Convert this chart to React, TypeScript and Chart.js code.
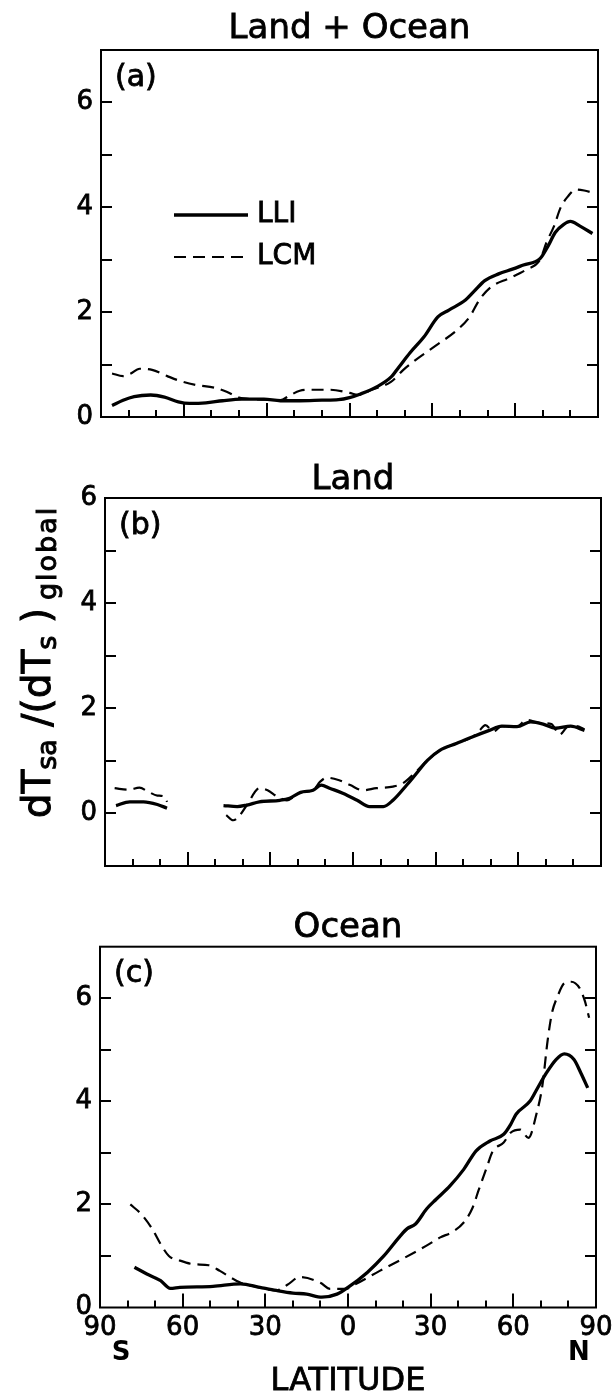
import React, { useEffect, useRef } from "react";
import { Chart, registerables } from "chart.js";

Chart.register(...registerables);

const FONT = "'DejaVu Sans', 'Liberation Sans', Arial, sans-serif";

// ---------------- data ----------------
const seriesNames = ["LLI", "LCM"];
const panelTitles = ["Land + Ocean", "Land", "Ocean"];
const panelTags = ["(a)", "(b)", "(c)"];
const xLabelLats = [-90, -60, -30, 0, 30, 60, 90];
const yLabelValues = [0, 2, 4, 6];
const hemisphereLabels = ["S", "N"];
const xTitle = "LATITUDE";
const yTitleRuns = [
  { text: "dT", sub: false },
  { text: "sa", sub: true },
  { text: " /(dT", sub: false },
  { text: "s", sub: true },
  { text: " )", sub: false },
  { text: "global", sub: true },
];

// (a) Land + Ocean
const latA_LLI = [-86, -82, -78, -72, -67, -62, -58, -52, -46, -39, -31, -25, -18, -10, -4, 0, 4, 10, 15, 18, 22, 27, 32, 36, 42, 45, 49, 54, 59, 63, 69, 72, 74.5, 77.5, 80, 83.5, 88];
const valA_LLI = [0.22, 0.32, 0.39, 0.42, 0.38, 0.29, 0.26, 0.27, 0.31, 0.34, 0.34, 0.31, 0.31, 0.32, 0.33, 0.37, 0.44, 0.58, 0.76, 0.96, 1.23, 1.53, 1.91, 2.04, 2.23, 2.39, 2.6, 2.73, 2.82, 2.9, 3.02, 3.27, 3.52, 3.67, 3.73, 3.64, 3.5];
const latA_LCM = [-86, -82, -79.5, -76, -71.5, -66, -61.5, -55.5, -49, -44.5, -40, -35, -30, -25, -22, -18, -14, -7, 0, 3, 8, 15, 19.5, 24, 31.5, 39, 43.5, 47, 51, 58, 64, 69, 71.5, 74, 76.5, 79, 82, 85, 88];
const valA_LCM = [0.83, 0.78, 0.82, 0.92, 0.9, 0.78, 0.69, 0.61, 0.56, 0.48, 0.37, 0.34, 0.33, 0.32, 0.4, 0.5, 0.52, 0.52, 0.46, 0.42, 0.52, 0.67, 0.9, 1.09, 1.37, 1.66, 1.91, 2.23, 2.47, 2.65, 2.81, 3.0, 3.35, 3.63, 4.0, 4.2, 4.34, 4.32, 4.28];

// (b) Land (null = no land, gap)
const latB_LLI = [-86, -81, -76, -71, -67.5, -57, -47, -42, -38.5, -34, -26.5, -23, -19, -14.5, -11.5, -8.5, -3.5, 1.5, 6, 11, 14.5, 19.5, 23, 27, 31.5, 37.5, 43.5, 49.5, 54, 59.5, 64.5, 69, 73.5, 79, 84];
const valB_LLI = [0.15, 0.22, 0.22, 0.17, 0.1, null, 0.15, 0.13, 0.16, 0.22, 0.25, 0.29, 0.4, 0.44, 0.54, 0.48, 0.38, 0.25, 0.13, 0.13, 0.25, 0.54, 0.76, 1.01, 1.2, 1.33, 1.46, 1.58, 1.66, 1.65, 1.74, 1.7, 1.62, 1.66, 1.58];
const latB_LCM = [-86.5, -81.5, -77.5, -74.5, -71, -68, -67.5, -57, -46, -43.5, -41.5, -38.5, -34, -31, -27.5, -24, -19, -14.5, -12, -9.5, -5, -1, 3.5, 8.5, 14.5, 18, 23, 27, 31.5, 37.5, 43.5, 46, 48, 51, 54, 59.5, 63, 68, 72, 75, 78, 81, 84];
const valB_LCM = [0.48, 0.45, 0.49, 0.42, 0.34, 0.31, 0.22, null, -0.03, -0.13, -0.06, 0.16, 0.48, 0.44, 0.32, 0.25, 0.4, 0.44, 0.6, 0.68, 0.63, 0.54, 0.44, 0.48, 0.51, 0.57, 0.8, 1.01, 1.2, 1.33, 1.46, 1.58, 1.68, 1.56, 1.66, 1.65, 1.78, 1.72, 1.7, 1.5, 1.65, 1.66, 1.6];

// (c) Ocean
const latC_LLI = [-77.5, -73, -68, -64.5, -61, -49, -39, -32, -26, -20, -15, -9.5, -4, 0, 7, 13, 19, 21.5, 24.5, 28.5, 32, 37, 42, 46.5, 51.5, 56.5, 59, 61, 66, 68.5, 72, 75.5, 78.5, 82, 84.5, 87];
const valC_LLI = [0.78, 0.65, 0.52, 0.37, 0.39, 0.41, 0.46, 0.39, 0.33, 0.28, 0.26, 0.2, 0.26, 0.39, 0.68, 1.0, 1.39, 1.53, 1.62, 1.91, 2.1, 2.36, 2.68, 3.04, 3.23, 3.36, 3.55, 3.75, 4.0, 4.23, 4.55, 4.81, 4.92, 4.81, 4.55, 4.26];
const latC_LCM = [-79, -75, -71, -68, -65, -61, -56, -50.5, -46.5, -41.5, -38, -33, -26, -22, -17.5, -10, -6.5, -1, 3, 11.5, 20, 28.5, 33.5, 38, 42, 45, 47.5, 50.5, 52.5, 56.5, 59, 62.5, 65.5, 68.5, 70.5, 72.5, 74, 76, 78.5, 81, 84, 86, 87.5];
const valC_LCM = [2.0, 1.81, 1.52, 1.23, 1.0, 0.91, 0.84, 0.82, 0.71, 0.55, 0.46, 0.4, 0.33, 0.44, 0.59, 0.48, 0.36, 0.36, 0.46, 0.71, 0.95, 1.2, 1.36, 1.47, 1.65, 1.91, 2.29, 2.74, 3.03, 3.2, 3.39, 3.45, 3.29, 3.78, 4.29, 5.2, 5.71, 6.03, 6.29, 6.32, 6.2, 5.94, 5.62];

// ---------------- helpers ----------------
const pts = (lats: number[], vals: (number | null)[]) => lats.map((x, i) => ({ x, y: vals[i] }));

function heavyText(ctx: CanvasRenderingContext2D, text: string, x: number, y: number, w = 0.8) {
  ctx.fillText(text, x, y);
  ctx.lineWidth = w;
  ctx.strokeText(text, x, y);
}

const framePlugin = {
  id: "frame",
  afterDraw(chart: any, _args: any, opts: any) {
    const { ctx, chartArea: a } = chart;
    const xs = chart.scales.x;
    const ys = chart.scales.y;
    ctx.save();
    ctx.strokeStyle = "#000";
    ctx.fillStyle = "#000";
    ctx.lineWidth = 2;
    ctx.setLineDash([]);
    ctx.strokeRect(a.left, a.top, a.right - a.left, a.bottom - a.top);
    ctx.beginPath();
    ys.ticks.forEach((t: any) => {
      if (t.value <= ys.min || t.value >= ys.max) return;
      const py = Math.round(ys.getPixelForValue(t.value));
      ctx.moveTo(a.left, py);
      ctx.lineTo(a.left + 11, py);
      ctx.moveTo(a.right - 11, py);
      ctx.lineTo(a.right, py);
    });
    xs.ticks.forEach((t: any) => {
      if (t.value <= xs.min || t.value >= xs.max) return;
      const px = Math.round(xs.getPixelForValue(t.value));
      const len = t.value % 30 === 0 ? 14 : 7;
      ctx.moveTo(px, a.bottom);
      ctx.lineTo(px, a.bottom - len);
    });
    ctx.stroke();

    // panel title
    ctx.font = `34px ${FONT}`;
    ctx.textAlign = "center";
    ctx.textBaseline = "alphabetic";
    heavyText(ctx, opts.title, (a.left + a.right) / 2, a.top - opts.titleGap);

    // panel tag
    ctx.font = `30px ${FONT}`;
    ctx.textAlign = "left";
    ctx.textBaseline = "middle";
    heavyText(ctx, opts.tag, a.left + 14, a.top + 28);

    // legend
    if (opts.legend) {
      chart.data.datasets.forEach((ds: any, i: number) => {
        const y = a.top + 165 + i * 42;
        ctx.beginPath();
        ctx.lineWidth = ds.borderWidth;
        ctx.setLineDash(ds.borderDash || []);
        ctx.moveTo(a.left + 73, y);
        ctx.lineTo(a.left + 147, y);
        ctx.stroke();
        ctx.setLineDash([]);
        ctx.font = `28px ${FONT}`;
        ctx.textAlign = "left";
        ctx.textBaseline = "middle";
        heavyText(ctx, ds.label, a.left + 156, y);
      });
    }

    // y axis title with subscripts
    if (opts.ylabel) {
      const mainSize = 39;
      const subSize = 27;
      ctx.save();
      const cx = 50;
      const cy = (a.top + a.bottom) / 2 - 20;
      ctx.translate(cx, cy);
      ctx.rotate(-Math.PI / 2);
      ctx.textAlign = "left";
      ctx.textBaseline = "alphabetic";
      const widths = yTitleRuns.map((r) => {
        ctx.font = `${r.sub ? subSize : mainSize}px ${FONT}`;
        (ctx as any).letterSpacing = r.text === "global" ? "2px" : "0px";
        return ctx.measureText(r.text).width + (r.text === " )" ? 8 : 0);
      });
      const total = widths.reduce((s, w) => s + w, 0);
      let x = -total / 2;
      yTitleRuns.forEach((r, i) => {
        ctx.font = `${r.sub ? subSize : mainSize}px ${FONT}`;
        (ctx as any).letterSpacing = r.text === "global" ? "2px" : "0px";
        heavyText(ctx, r.text, x, r.sub ? 6 : 0, 1);
        x += widths[i];
      });
      (ctx as any).letterSpacing = "0px";
      ctx.restore();
    }

    // x axis title + hemisphere labels
    if (opts.hemis) {
      ctx.font = `bold 26px ${FONT}`;
      ctx.textAlign = "center";
      ctx.textBaseline = "middle";
      ctx.fillText(hemisphereLabels[0], a.left + 21, a.bottom + 46);
      ctx.fillText(hemisphereLabels[1], a.right - 17, a.bottom + 46);
      ctx.font = `32px ${FONT}`;
      ctx.textBaseline = "alphabetic";
      heavyText(ctx, xTitle, (a.left + a.right) / 2, a.bottom + 82);
    }
    ctx.restore();
  },
};

type PanelCfg = {
  top: number;
  h: number;
  yMin: number;
  yMax: number;
  yWidth: number;
  padRight: number;
  padTop: number;
  titleGap: number;
  xHeight: number;
  idx: number;
  lli: { x: number; y: number | null }[];
  lcm: { x: number; y: number | null }[];
  showX: boolean;
  legend: boolean;
  ylabel: boolean;
};

function Panel({ cfg }: { cfg: PanelCfg }) {
  const ref = useRef<HTMLCanvasElement | null>(null);
  useEffect(() => {
    if (!ref.current) return;
    const tickFont = { family: FONT, size: 26 };
    const chart = new Chart(ref.current, {
      type: "line",
      data: {
        datasets: [
          {
            label: seriesNames[0],
            data: cfg.lli as any,
            borderColor: "#000",
            borderWidth: 3.3,
            pointRadius: 0,
            cubicInterpolationMode: "monotone",
            spanGaps: false,
            fill: false,
          },
          {
            label: seriesNames[1],
            data: cfg.lcm as any,
            borderColor: "#000",
            borderWidth: 2.2,
            borderDash: [12, 7],
            pointRadius: 0,
            cubicInterpolationMode: "monotone",
            spanGaps: false,
            fill: false,
          },
        ],
      },
      options: {
        responsive: false,
        animation: false,
        maintainAspectRatio: false,
        layout: { padding: { left: 0, right: cfg.padRight, top: cfg.padTop, bottom: 0 } },
        plugins: {
          legend: { display: false },
          tooltip: { enabled: false },
          title: { display: false },
          frame: {
            title: panelTitles[cfg.idx],
            titleGap: cfg.titleGap,
            tag: panelTags[cfg.idx],
            legend: cfg.legend,
            ylabel: cfg.ylabel,
            hemis: cfg.showX,
          },
        } as any,
        scales: {
          x: {
            type: "linear",
            min: -90,
            max: 90,
            grid: { display: false, drawTicks: false },
            border: { display: false },
            ticks: {
              display: cfg.showX,
              stepSize: 10,
              autoSkip: false,
              maxRotation: 0,
              padding: 5,
              color: "#000",
              textStrokeColor: "#000",
              textStrokeWidth: 0.8,
              font: tickFont,
              callback: (v: any) => (xLabelLats.includes(Number(v)) ? String(Math.abs(Number(v))) : ""),
            },
            afterFit: (s: any) => {
              s.height = cfg.xHeight;
              s.paddingLeft = 0;
              s.paddingRight = 0;
            },
          },
          y: {
            type: "linear",
            min: cfg.yMin,
            max: cfg.yMax,
            grid: { display: false, drawTicks: false },
            border: { display: false },
            ticks: {
              stepSize: 1,
              autoSkip: false,
              padding: 8,
              color: "#000",
              textStrokeColor: "#000",
              textStrokeWidth: 0.8,
              font: tickFont,
              callback: (v: any) => (yLabelValues.includes(Number(v)) ? String(v) : ""),
            },
            afterFit: (s: any) => {
              s.width = cfg.yWidth;
              s.paddingTop = 0;
              s.paddingBottom = 0;
            },
          },
        },
      } as any,
      plugins: [framePlugin as any],
    });
    return () => chart.destroy();
  }, []);
  return (
    <canvas
      ref={ref}
      width={612}
      height={cfg.h}
      style={{ position: "absolute", left: 0, top: cfg.top, width: 612, height: cfg.h }}
    />
  );
}

const panels: PanelCfg[] = [
  {
    top: 0, h: 450, yMin: 0, yMax: 7, yWidth: 101, padRight: 14, padTop: 50, titleGap: 11.8, xHeight: 33, idx: 0,
    lli: pts(latA_LLI, valA_LLI), lcm: pts(latA_LCM, valA_LCM),
    showX: false, legend: true, ylabel: false,
  },
  {
    top: 450, h: 450, yMin: -1, yMax: 6, yWidth: 105, padRight: 11, padTop: 48, titleGap: 9.1, xHeight: 34, idx: 1,
    lli: pts(latB_LLI, valB_LLI), lcm: pts(latB_LCM, valB_LCM),
    showX: false, legend: false, ylabel: true,
  },
  {
    top: 900, h: 495, yMin: 0, yMax: 7, yWidth: 100, padRight: 16, padTop: 46.7, titleGap: 9.3, xHeight: 87.5, idx: 2,
    lli: pts(latC_LLI, valC_LLI), lcm: pts(latC_LCM, valC_LCM),
    showX: true, legend: false, ylabel: false,
  },
];

export default function App() {
  return (
    <div style={{ position: "absolute", left: 0, top: 0, width: 612, height: 1395, background: "#fff" }}>
      {panels.map((p) => (
        <Panel key={p.idx} cfg={p} />
      ))}
    </div>
  );
}
